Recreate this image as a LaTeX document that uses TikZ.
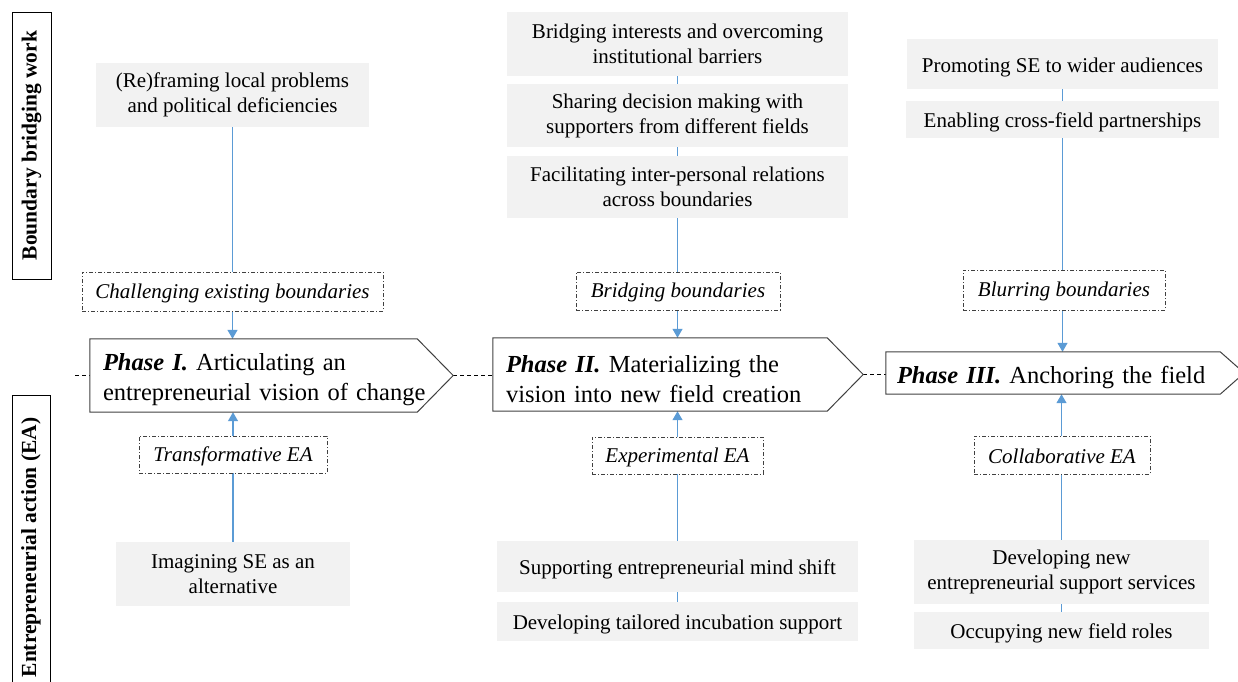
\documentclass[tikz,border=0pt]{standalone}
\usepackage{fontspec}
\setmainfont{Liberation Serif}
\usetikzlibrary{arrows.meta,calc,backgrounds}
\definecolor{boxgray}{HTML}{F2F2F2}
\definecolor{lineblue}{HTML}{5B9BD5}
\definecolor{edgegray}{HTML}{404040}
\tikzset{
 gbox/.style={fill=boxgray, inner sep=0pt, align=center, font=\fontsize{21}{25}\selectfont, execute at begin node={\rule{0pt}{21pt}}},
 dbox/.style={draw=edgegray, fill=white, line width=0.8pt, dash pattern=on 4pt off 2pt on 1pt off 2pt, inner sep=0pt, font=\fontsize{21}{25}\selectfont\itshape, execute at begin node={\rule{0pt}{18pt}}},
 phase/.style={inner ysep=0pt, align=left, font=\fontsize{24.5}{30}\selectfont, execute at begin node={\rule{0pt}{26pt}}},
 phaseline/.style={draw=edgegray, line width=1pt},
 link/.style={draw=lineblue, line width=1.2pt, -{Triangle[width=10pt,length=9pt]}},
 bluejoin/.style={draw=lineblue, line width=1.2pt},
 axis/.style={draw=black, line width=0.8pt, dash pattern=on 4pt off 3pt},
 side/.style={draw=black, line width=1pt, rotate=90, inner sep=0pt, font=\fontsize{21.5}{25}\selectfont\bfseries},
}
\begin{document}
\begin{tikzpicture}[x=1pt,y=-1pt]
\useasboundingbox (0,0) rectangle (1238,681);

% side labels
\node[side, minimum width=267pt, minimum height=39pt] (lab1) at (31.5,145.5) {Boundary bridging work};
\node[side, minimum width=305pt, minimum height=38pt] (lab2) at (31,547.5) {Entrepreneurial action (EA)};

% Phase I
\node[gbox, minimum width=273pt, minimum height=64pt] (a1) at (232.5,95) {(Re)framing local problems\\and political deficiencies};
\node[dbox, minimum width=301pt, minimum height=39pt] (ad) at (232.5,291.5) {Challenging existing boundaries};
\node[phase, inner xsep=13pt, text width=337pt, minimum height=73pt] (p1) at (271.5,375.5) {\textbf{\textit{Phase I.}} Articulating an\\entrepreneurial vision of change};
\node[dbox, minimum width=188pt, minimum height=37pt] (ae) at (233,454.5) {Transformative EA};
\node[gbox, minimum width=234pt, minimum height=64pt] (a2) at (233,574) {Imagining SE as an\\alternative};

% Phase II
\node[gbox, minimum width=341pt, minimum height=64pt] (b1) at (677.5,44) {Bridging interests and overcoming\\institutional barriers};
\node[gbox, minimum width=341pt, minimum height=63pt] (b2) at (677.5,115.5) {Sharing decision making with\\supporters from different fields};
\node[gbox, minimum width=341pt, minimum height=62pt] (b3) at (677.5,187) {Facilitating inter-personal relations\\across boundaries};
\node[dbox, minimum width=204pt, minimum height=38pt] (bd) at (678,291) {Bridging boundaries};
\node[phase, inner xsep=13pt, text width=344pt, minimum height=73pt] (p2) at (678,374.5) {\textbf{\textit{Phase II.}} Materializing the\\vision into new field creation};
\node[dbox, minimum width=171pt, minimum height=37pt] (be) at (677.5,455.5) {Experimental EA};
\node[gbox, minimum width=361pt, minimum height=51pt] (b4) at (677.5,566.5) {Supporting entrepreneurial mind shift};
\node[gbox, minimum width=361pt, minimum height=39pt] (b5) at (677.5,621.5) {Developing tailored incubation support};

% Phase III
\node[gbox, minimum width=311pt, minimum height=50pt] (c1) at (1062.5,64) {Promoting SE to wider audiences};
\node[gbox, minimum width=313pt, minimum height=37pt] (c2) at (1062.5,119.5) {Enabling cross-field partnerships};
\node[dbox, minimum width=202pt, minimum height=40pt] (cd) at (1064,290) {Blurring boundaries};
\node[phase, inner xsep=11pt, text width=336pt, minimum height=42pt] (p3) at (1065,373) {\textbf{\textit{Phase III.}} Anchoring the field};
\node[dbox, minimum width=176pt, minimum height=38pt] (ce) at (1062,455) {Collaborative EA};
\node[gbox, minimum width=295pt, minimum height=64pt] (c3) at (1061.5,572) {Developing new\\entrepreneurial support services};
\node[gbox, minimum width=295pt, minimum height=37pt] (c4) at (1061.5,630.5) {Occupying new field roles};

% phase outlines
\foreach \p/\d in {p1/36,p2/36,p3/24}{
  \draw[phaseline] (\p.north west) -- ($(\p.north east)+(-\d,0)$) -- (\p.east) -- ($(\p.south east)+(-\d,0)$) -- (\p.south west) -- cycle;
}

\coordinate (axstart) at (75,375);
\begin{pgfonlayer}{background}
  \draw[axis] (axstart) -- (axstart -| p1.west);
  \draw[axis] (p1.east) -- (p1.east -| p2.west);
  \draw[axis] (p2.east) -- (p2.east -| p3.west);
  \draw[link] (a1.south) -- (a1.south |- p1.north);
  \draw[link] (a2.north) -- (a2.north |- p1.south);
  \draw[link] (b1.south) -- (b1.south |- p2.north);
  \draw[link] (b4.north) -- (b4.north |- p2.south);
  \draw[bluejoin] (b4.south) -- (b5.north);
  \draw[link] (c1.south) -- (c1.south |- p3.north);
  \draw[link] (c3.north) -- (c3.north |- p3.south);
  \draw[bluejoin] (c3.south) -- (c4.north);
\end{pgfonlayer}
\end{tikzpicture}
\end{document}
